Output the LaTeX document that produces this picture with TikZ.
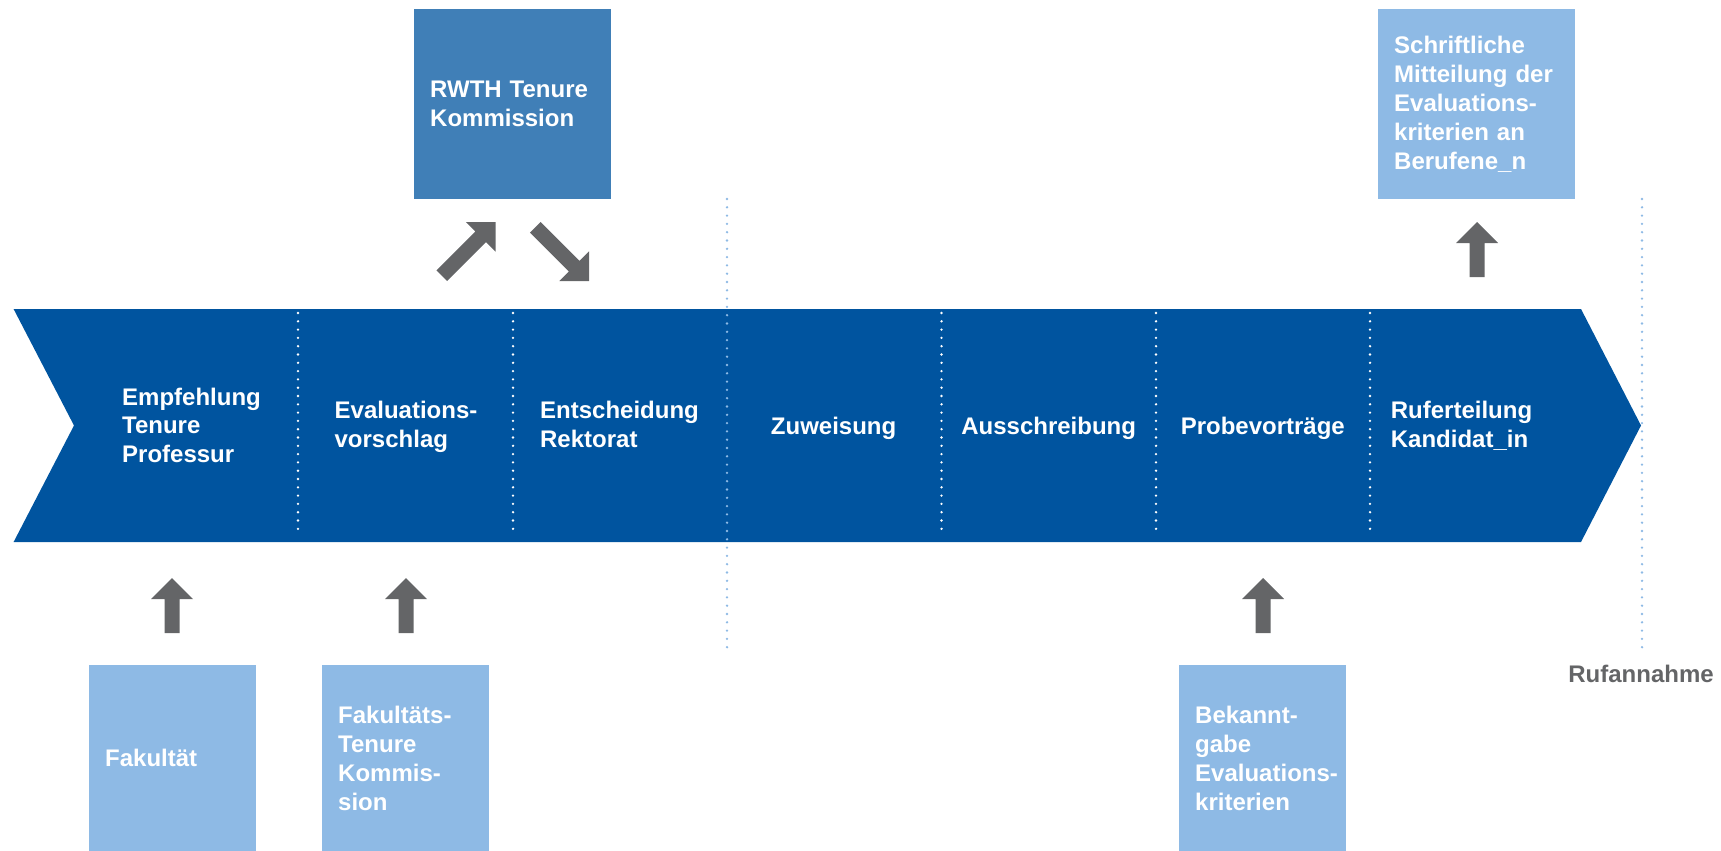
\documentclass[tikz,border=0pt]{standalone}
\usepackage{fontspec}
\setmainfont{Liberation Sans}
\definecolor{rwthblue}{HTML}{00549F}
\definecolor{rwthmid}{HTML}{407FB7}
\definecolor{rwthlight}{HTML}{8EBAE5}
\definecolor{arrowgray}{HTML}{646567}
\begin{document}
\begin{tikzpicture}[x=1pt,y=-1pt,
  lbl/.style={text=white, font=\bfseries\fontsize{24}{28.7}\selectfont, align=left, inner sep=0pt, anchor=north},
  box/.style={anchor=north west, text=white, font=\bfseries\fontsize{24}{29}\selectfont, align=left, inner xsep=16pt, inner ysep=0pt, execute at begin node={\hyphenpenalty=10000 \exhyphenpenalty=10000 }},
  sepline/.style={white, line width=2.6pt, line cap=round, dash pattern=on 0pt off 8.3pt},
  guide/.style={rwthlight, line width=2.6pt, line cap=round, dash pattern=on 0pt off 8.3pt},
  pics/blockarrow/.style={code={\fill[arrowgray] (0,0) -- (21,21) -- (7.5,21) -- (7.5,#1) -- (-7.5,#1) -- (-7.5,21) -- (-21,21) -- cycle;}}
]
\path[use as bounding box] (0,0) rectangle (1721,851);

% band
\fill[rwthblue] (13.6,309) -- (1581,309) -- (1641,425.5) -- (1581,542) -- (13.6,542) -- (74,425.5) -- cycle;

% separators inside band
\foreach \i/\x in {1/298,2/513,3/941.5,4/1156,5/1370}{
  \coordinate (s\i t) at (\x,313);
  \coordinate (s\i b) at (\x,537);
  \draw[sepline] (s\i t) -- (s\i b);
}
% light blue guides
\coordinate (g1t) at (727,199);
\coordinate (g1b) at (727,651);
\coordinate (g2t) at (1642,199);
\coordinate (g2b) at (1642,651);
\draw[guide] (g1t) -- (g1b);
\draw[guide] (g2t) -- (g2b);

% band texts
\node[lbl] (t1) at (191.5,387.6) {Empfehlung\\Tenure\\Professur};
\node[lbl] (t2) at (406,401.1) {Evaluations-\\vorschlag};
\node[lbl] (t3) at (619.5,401.1) {Entscheidung\\Rektorat};
\node[lbl] (t4) at (833.6,416.6) {Zuweisung};
\node[lbl] (t5) at (1048.7,416.6) {Ausschreibung};
\node[lbl] (t6) at (1262.8,416.6) {Probevorträge};
\node[lbl] (t7) at (1461.5,401.1) {Ruferteilung\\Kandidat\_in};

% boxes
\node[box, fill=rwthmid, minimum width=196.7pt, minimum height=190pt, text width=164.7pt] (rwth) at (414,9) {RWTH Tenure\\Kommission};
\node[box, fill=rwthlight, minimum width=197pt, minimum height=190pt, text width=165pt] (mit) at (1378,9) {Schriftliche\\Mitteilung der\\Evaluations-\\kriterien an\\Berufene\_n};
\node[box, fill=rwthlight, minimum width=167pt, minimum height=186pt, text width=135pt] (fak) at (89,665) {Fakultät};
\node[box, fill=rwthlight, minimum width=167pt, minimum height=186pt, text width=135pt] (ftk) at (322,665) {Fakultäts-\\Tenure\\Kommis-\\sion};
\node[box, fill=rwthlight, minimum width=167pt, minimum height=186pt, text width=135pt] (bek) at (1179,665) {Bekannt-\\gabe\\Evaluations-\\kriterien};

% Rufannahme
\node[anchor=base, inner sep=0pt, text=arrowgray, font=\bfseries\fontsize{24}{29}\selectfont] (ruf) at (1641,682) {Rufannahme};

% block arrows
\pic[rotate=-45] (a1) at (495.5,222) {blockarrow=76};
\pic[rotate=-135] (a2) at (589,281) {blockarrow=76};
\pic (a3) at (172,578) {blockarrow=55};
\pic (a4) at (406,578) {blockarrow=55};
\pic (a5) at (1263,578) {blockarrow=55};
\pic (a6) at (1477,222) {blockarrow=55};
\end{tikzpicture}
\end{document}
